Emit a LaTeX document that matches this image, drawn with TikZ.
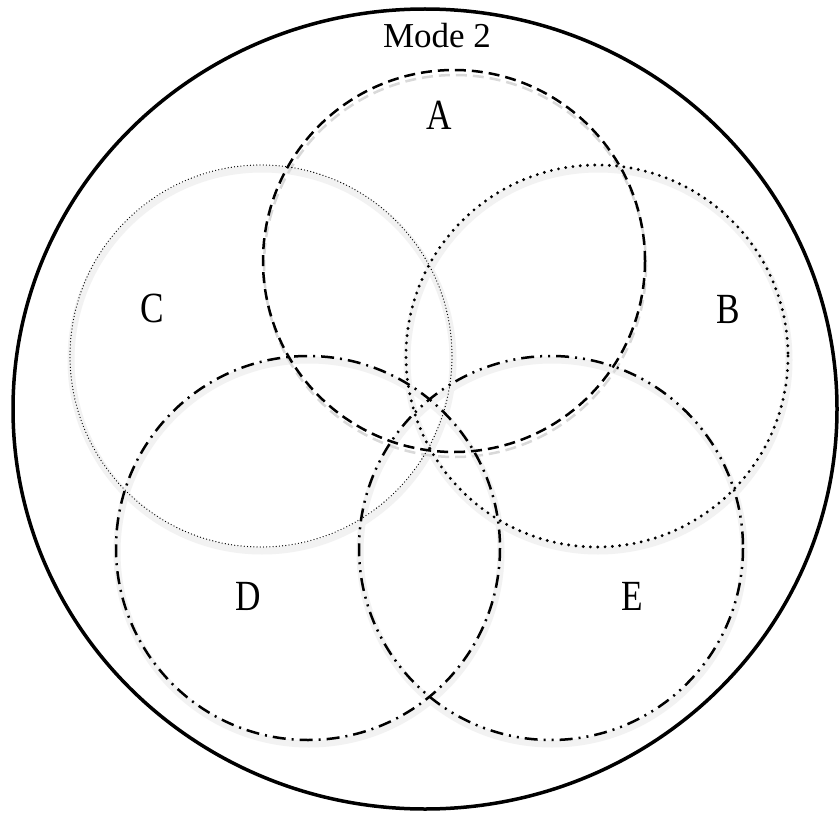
\documentclass[tikz,border=0pt]{standalone}
\usepackage{fontspec}
\setmainfont{Liberation Serif}
\newfontfamily\narrowserif[FakeStretch=0.82]{Liberation Serif}
\begin{document}
\begin{tikzpicture}[x=1pt,y=-1pt,
  outerc/.style={line width=3.5pt},
  cA/.style={line width=2.5pt,dash pattern=on 11pt off 6pt},
  cAsh/.style={line width=2.5pt,dash pattern=on 11pt off 6pt,black!15},
  softsh/.style={line width=7pt,black!5},
  cB/.style={line width=3.2pt,line cap=round,dash pattern=on 0pt off 7.3pt},
  cC/.style={line width=1.3pt,line cap=round,dash pattern=on 0pt off 3.2pt},
  cD/.style={line width=2.5pt,dash pattern=on 13pt off 6pt on 2pt off 6pt},
  cE/.style={line width=2.5pt,dash pattern=on 13pt off 6pt on 2pt off 6pt on 2pt off 6pt},
  lbl/.style={anchor=base,inner sep=0pt,font=\narrowserif\fontsize{43}{45}\selectfont},
  mlbl/.style={anchor=base,inner sep=0pt,font=\fontsize{35}{37}\selectfont}]
\useasboundingbox (0,0) rectangle (840,813);
\fill[white] (0,0) rectangle (840,813);
\draw[outerc] (425,409) ellipse [x radius=412, y radius=400];
% soft shadows
\draw[softsh] (262,360) circle (191);
\draw[softsh] (598,360) circle (191);
\draw[softsh] (309,552) circle (192);
\draw[softsh] (552,552) circle (192);
\draw[cAsh] (455,266) circle (191);
\draw[cA] (454,261) circle (191);
\draw[cC] (261,356) circle (191);
\draw[cB] (597,356) circle (191);
\draw[cD] (308,548) circle (192);
\draw[cE] (551,548) circle (192);
\node[mlbl] (m) at (437,48) {Mode 2};
\node[lbl] (a) at (439,130) {A};
\node[lbl] (b) at (728,323) {B};
\node[lbl] (c) at (152,322) {C};
\node[lbl] (d) at (248,610) {D};
\node[lbl] (e) at (632,610) {E};
\end{tikzpicture}
\end{document}
